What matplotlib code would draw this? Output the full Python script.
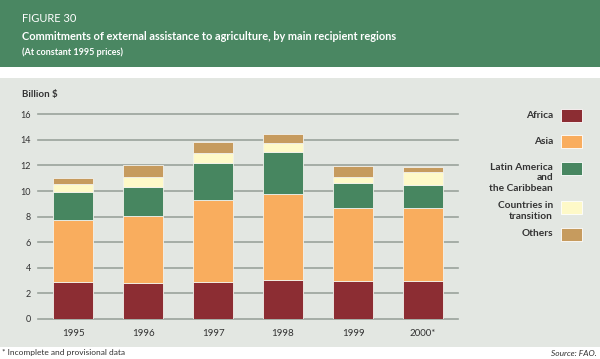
import matplotlib
matplotlib.use("Agg")
import matplotlib.pyplot as plt
from matplotlib.patches import Rectangle
import numpy as np

plt.rcParams['font.family'] = ['Lato', 'DejaVu Sans']

# data (billion $, constant 1995 prices)
years = ["1995", "1996", "1997", "1998", "1999", "2000*"]
regions = ["Africa", "Asia", "Latin America\nand\nthe Caribbean",
           "Countries in\ntransition", "Others"]
africa = [2.92, 2.81, 2.92, 3.05, 2.97, 2.97]
asia = [4.81, 5.26, 6.38, 6.69, 5.73, 5.73]
latin_america = [2.22, 2.27, 2.89, 3.31, 1.93, 1.80]
transition = [0.60, 0.78, 0.75, 0.73, 0.47, 0.96]
others = [0.45, 0.94, 0.86, 0.70, 0.85, 0.39]
series = [africa, asia, latin_america, transition, others]
colors = ["#8c2d33", "#f9ad5e", "#478660", "#fef9c8", "#c69b5e"]

W, H = 600, 359
fig = plt.figure(figsize=(W / 100, H / 100), dpi=100, facecolor="white")

def fx(px):
    return px / W

def fy(py):
    return 1 - py / H

# header band and grey panel
fig.patches.append(Rectangle((0, fy(67)), 1, 67 / H, transform=fig.transFigure,
                             facecolor="#4a8762", edgecolor="none", zorder=-2))
fig.patches.append(Rectangle((0, fy(347)), 1, (347 - 78) / H, transform=fig.transFigure,
                             facecolor="#e3e7e2", edgecolor="none", zorder=-2))

fig.text(fx(22), fy(19), "FIGURE 30", color="white", fontsize=8, va="center")
fig.text(fx(22), fy(37), "Commitments of external assistance to agriculture, by main recipient regions",
         color="white", fontsize=7.9, fontweight="bold", va="center")
fig.text(fx(22), fy(52), "(At constant 1995 prices)", color="white", fontsize=6.5,
         fontweight="bold", va="center")

ax = fig.add_axes([fx(38), 40 / H, 420 / W, (319 - 114.3) / H])
ax.set_facecolor("#e3e7e2")
x = np.arange(len(years))
bottom = np.zeros(len(years))
for vals, c in zip(series, colors):
    ax.bar(x, vals, width=0.571, bottom=bottom, color=c, edgecolor="#f2f2ec",
           linewidth=0.6, zorder=3)
    bottom += np.array(vals)

ax.set_xlim(-0.5, 5.5)
ax.set_ylim(0, 16)
ax.set_yticks(range(0, 17, 2))
ax.set_xticks(x)
ax.set_xticklabels(years)
ax.yaxis.grid(True, color="#9aa39c", linewidth=1.2, zorder=1)
for gl in ax.get_ygridlines():
    gl.set_clip_on(False)
ax.tick_params(length=0, labelsize=6.5, colors="#333333")
ax.tick_params(axis="y", pad=5)
ax.tick_params(axis="x", pad=7, labelsize=7)
for s in ax.spines.values():
    s.set_visible(False)

fig.text(fx(22), fy(94), "Billion $", fontsize=7, fontweight="bold",
         color="#333333", va="center")

# legend
legend_y = [115, 141, 168, 207, 234]
for name, c, py in zip(regions, colors, legend_y):
    fig.patches.append(Rectangle((fx(561), fy(py + 6.5)), 21 / W, 13 / H,
                                 transform=fig.transFigure, facecolor=c,
                                 edgecolor="white", linewidth=0.6, zorder=3))
    if "\n" in name:
        fig.text(fx(553), fy(py - 5.5), name, ha="right", va="top",
                 multialignment="right", fontsize=7.3, fontweight="bold",
                 color="#333333", linespacing=1.25)
    else:
        fig.text(fx(553), fy(py), name, ha="right", va="center", fontsize=7.3,
                 fontweight="bold", color="#333333")

fig.text(fx(2), fy(353), "* Incomplete and provisional data", fontsize=6,
         color="#333333", va="center")
fig.text(fx(597), fy(353), "Source: FAO.", fontsize=6, style="italic",
         color="#333333", va="center", ha="right")

fig.savefig("out.png", dpi=100, facecolor="white")
